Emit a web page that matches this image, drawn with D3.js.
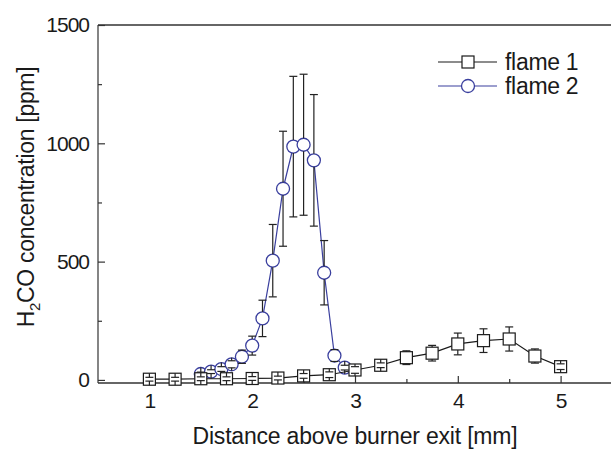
<!DOCTYPE html>
<html>
<head>
<meta charset="utf-8">
<script src="https://cdn.jsdelivr.net/npm/d3@7"></script>
<style>
  body { margin: 0; background: #fff; }
  text { font-family: "Liberation Sans", Arial, sans-serif; fill: #1a1a1a; }
</style>
</head>
<body>
<div id="chart"></div>
<script>
// flame 1 (squares)
var flame1X = [1.0, 1.25, 1.5, 1.75, 2.0, 2.25, 2.5, 2.75, 3.0, 3.25, 3.5, 3.75, 4.0, 4.25, 4.5, 4.75, 5.0];
var flame1Y = [3, 3, 5, 5, 6, 8, 17, 22, 42, 62, 94, 113, 152, 166, 173, 101, 56];
var flame1Err = [8, 8, 8, 8, 8, 8, 10, 12, 14, 10, 29, 33, 46, 50, 51, 30, 12];

// flame 2 (circles)
var flame2X = [1.5, 1.6, 1.7, 1.8, 1.9, 2.0, 2.1, 2.2, 2.3, 2.4, 2.5, 2.6, 2.7, 2.8, 2.9];
var flame2Y = [25, 35, 46, 66, 98, 145, 260, 504, 808, 986, 994, 928, 453, 103, 52];
var flame2Err = [8, 8, 10, 15, 28, 40, 77, 153, 243, 297, 298, 278, 136, 25, 10];

var xTicks = [1, 2, 3, 4, 5];
var xMinor = [1.5, 2.5, 3.5, 4.5];
var yTicks = [0, 500, 1000, 1500];
var yMinor = [250, 750, 1250];

var width = 611, height = 449;
var blue = '#3a3f9e';

var svg = d3.select('#chart').append('svg')
    .attr('width', width)
    .attr('height', height);

var x = d3.scaleLinear().domain([0.5, 5.5]).range([98, 612]);
var y = d3.scaleLinear().domain([-13, 1500]).range([383, 25]);

// frame
svg.append('line')
    .attr('x1', x(0.5)).attr('x2', x(5.5))
    .attr('y1', y(1500)).attr('y2', y(1500))
    .attr('stroke', '#666').attr('stroke-width', 2);
svg.append('line')
    .attr('x1', x(0.5)).attr('x2', x(0.5))
    .attr('y1', y(1500)).attr('y2', y(-13))
    .attr('stroke', '#333').attr('stroke-width', 1.2);
svg.append('line')
    .attr('x1', x(0.5)).attr('x2', x(5.5))
    .attr('y1', y(-13)).attr('y2', y(-13))
    .attr('stroke', '#333').attr('stroke-width', 1.6);

// axes, ticks pointing inward
var xAxis = svg.append('g')
    .attr('transform', 'translate(0,' + y(-13) + ')')
    .call(d3.axisBottom(x).tickValues(xTicks).tickSize(-7).tickPadding(10).tickFormat(d3.format('d')));
var xAxisMinor = svg.append('g')
    .attr('transform', 'translate(0,' + y(-13) + ')')
    .call(d3.axisBottom(x).tickValues(xMinor).tickSize(-4).tickFormat(''));
var yAxis = svg.append('g')
    .attr('transform', 'translate(' + x(0.5) + ',0)')
    .call(d3.axisLeft(y).tickValues(yTicks).tickSize(-7).tickPadding(9).tickFormat(d3.format('d')));
var yAxisMinor = svg.append('g')
    .attr('transform', 'translate(' + x(0.5) + ',0)')
    .call(d3.axisLeft(y).tickValues(yMinor).tickSize(-4).tickFormat(''));

[xAxis, xAxisMinor, yAxis, yAxisMinor].forEach(function(a) {
    a.select('.domain').remove();
    a.selectAll('.tick line').attr('stroke', '#333').attr('stroke-width', 1.2);
    a.selectAll('.tick text')
        .style('font-family', '"Liberation Sans", Arial, sans-serif')
        .style('font-size', '21px')
        .style('letter-spacing', '-1px')
        .attr('fill', '#1a1a1a');
});

// axis titles
svg.append('text')
    .attr('x', 355).attr('y', 444)
    .attr('text-anchor', 'middle')
    .style('font-size', '23px')
    .style('letter-spacing', '-0.2px')
    .text('Distance above burner exit [mm]');

var yt = svg.append('text')
    .attr('transform', 'translate(34,197) rotate(-90)')
    .attr('text-anchor', 'middle')
    .style('font-size', '23px')
    .style('letter-spacing', '-0.3px');
yt.append('tspan').text('H');
yt.append('tspan').attr('dy', 6).style('font-size', '15px').text('2');
yt.append('tspan').attr('dy', -6).text('CO concentration [ppm]');

function series(xs, ys, errs, color, shape, half) {
    var pts = xs.map(function(d, i) { return {x: d, y: ys[i], e: errs[i]}; });
    var g = svg.append('g');

    g.append('path')
        .datum(pts)
        .attr('d', d3.line().x(function(d) { return x(d.x); }).y(function(d) { return y(d.y); }))
        .attr('fill', 'none')
        .attr('stroke', color)
        .attr('stroke-width', 1.2);

    if (shape === 'circle') {
        g.selectAll('circle').data(pts).enter().append('circle')
            .attr('cx', function(d) { return x(d.x); })
            .attr('cy', function(d) { return y(d.y); })
            .attr('r', half)
            .attr('fill', '#fff')
            .attr('stroke', color)
            .attr('stroke-width', 1.3);
    } else {
        g.selectAll('rect').data(pts).enter().append('rect')
            .attr('x', function(d) { return x(d.x) - half; })
            .attr('y', function(d) { return y(d.y) - half; })
            .attr('width', half * 2)
            .attr('height', half * 2)
            .attr('fill', '#fff')
            .attr('stroke', color)
            .attr('stroke-width', 1.2);
    }

    // error bars from marker edge out to value +/- error
    var eb = g.selectAll('g.err').data(pts).enter().append('g').attr('class', 'err');
    [-1, 1].forEach(function(s) {
        eb.append('line')
            .attr('x1', function(d) { return x(d.x); })
            .attr('x2', function(d) { return x(d.x); })
            .attr('y1', function(d) { return y(d.y) - s * half; })
            .attr('y2', function(d) { return y(d.y + s * d.e); })
            .attr('stroke', '#222').attr('stroke-width', 1.2);
        eb.append('line')
            .attr('x1', function(d) { return x(d.x) - 4; })
            .attr('x2', function(d) { return x(d.x) + 4; })
            .attr('y1', function(d) { return y(d.y + s * d.e); })
            .attr('y2', function(d) { return y(d.y + s * d.e); })
            .attr('stroke', '#222').attr('stroke-width', 1.2);
    });
}

series(flame2X, flame2Y, flame2Err, blue, 'circle', 6.5);
series(flame1X, flame1Y, flame1Err, '#1a1a1a', 'square', 6);

// legend
var legend = [
    {name: 'flame 1', color: '#1a1a1a', shape: 'square', ly: 62},
    {name: 'flame 2', color: blue, shape: 'circle', ly: 86}
];
var lg = svg.selectAll('g.legend').data(legend).enter().append('g').attr('class', 'legend');
lg.append('line')
    .attr('x1', 438).attr('x2', 497)
    .attr('y1', function(d) { return d.ly; }).attr('y2', function(d) { return d.ly; })
    .attr('stroke', function(d) { return d.color; }).attr('stroke-width', 1.2);
lg.filter(function(d) { return d.shape === 'square'; }).append('rect')
    .attr('x', 462).attr('y', function(d) { return d.ly - 6; })
    .attr('width', 12).attr('height', 12)
    .attr('fill', '#fff').attr('stroke', function(d) { return d.color; }).attr('stroke-width', 1.2);
lg.filter(function(d) { return d.shape === 'circle'; }).append('circle')
    .attr('cx', 468).attr('cy', function(d) { return d.ly; }).attr('r', 6.5)
    .attr('fill', '#fff').attr('stroke', function(d) { return d.color; }).attr('stroke-width', 1.3);
lg.append('text')
    .attr('x', 505).attr('y', function(d) { return d.ly + 8; })
    .style('font-size', '23px')
    .style('letter-spacing', '-0.3px')
    .text(function(d) { return d.name; });
</script>
</body>
</html>
